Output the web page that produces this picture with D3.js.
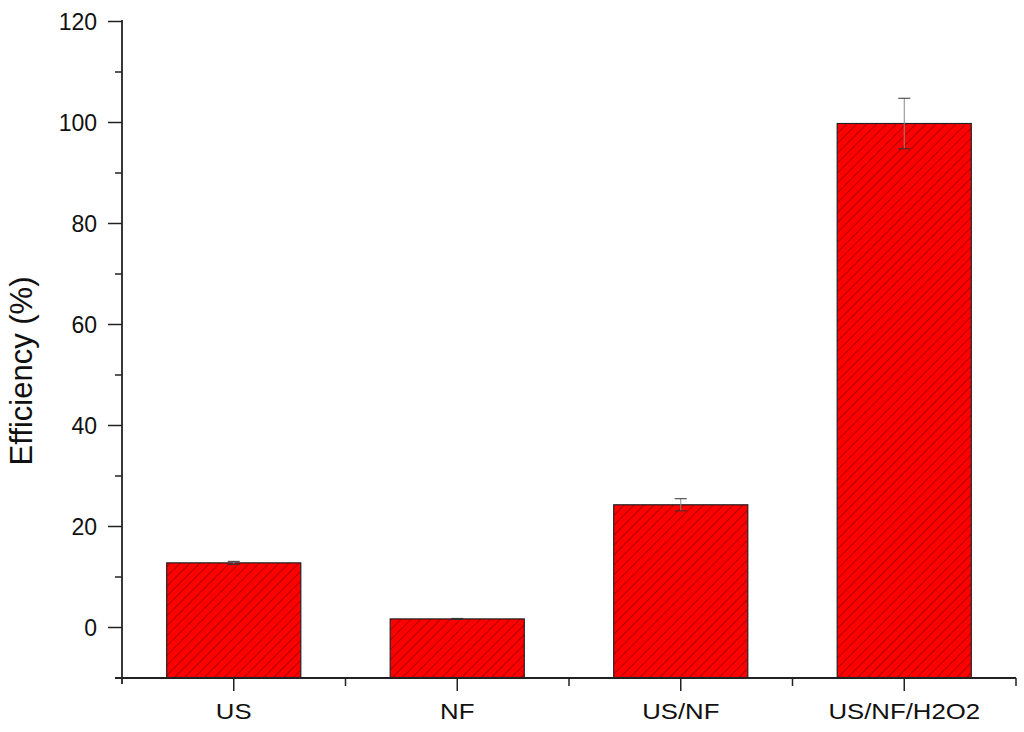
<!DOCTYPE html>
<html><head><meta charset="utf-8">
<script src="https://cdn.jsdelivr.net/npm/d3@7"></script>
<style>body{margin:0;background:#fff}svg{display:block}text{font-family:Arial,"Liberation Sans",sans-serif;fill:#111}</style>
</head><body>
<script>
const categories = ["US", "NF", "US/NF", "US/NF/H2O2"];
const values = [12.7, 1.6, 24.2, 99.7];
const errors = [0.3, 0.1, 1.2, 5.0];
const yTicks = [0, 20, 40, 60, 80, 100, 120];
const yMinorTicks = [-10, 10, 30, 50, 70, 90, 110];

const W = 1024, H = 732;
const svg = d3.select("body").append("svg").attr("width", W).attr("height", H);

const x = d3.scaleBand().domain(categories).range([122, 1016]).paddingInner(0).paddingOuter(0);
const y = d3.scaleLinear().domain([-10, 120]).range([677.5, 21]);

const defs = svg.append("defs");
const pat = defs.append("pattern").attr("id", "hatch").attr("patternUnits", "userSpaceOnUse")
  .attr("width", 7).attr("height", 7).attr("patternTransform", "rotate(45)");
pat.append("rect").attr("width", 7).attr("height", 7).attr("fill", "#ff0000");
pat.append("line").attr("x1", 0).attr("y1", 0).attr("x2", 0).attr("y2", 7)
  .attr("stroke", "#600000").attr("stroke-width", 1);

const bw = x.bandwidth() * 0.6;
const cx = d => x(d) + x.bandwidth() / 2;

// bars
svg.selectAll("rect.bar").data(categories).join("rect").attr("class", "bar")
  .attr("x", d => cx(d) - bw / 2).attr("width", bw)
  .attr("y", (d, i) => y(values[i])).attr("height", (d, i) => y(-10) - y(values[i]))
  .attr("fill", "url(#hatch)").attr("stroke", "#222").attr("stroke-width", 1.2);

// error bars
const eg = svg.append("g").attr("stroke", "#333").attr("stroke-width", 1);
categories.forEach((c, i) => {
  const xc = cx(c);
  eg.append("line").attr("x1", xc).attr("x2", xc).attr("y1", y(values[i] + errors[i])).attr("y2", y(values[i] - errors[i])).attr("stroke", "#888");
  eg.append("line").attr("x1", xc - 6).attr("x2", xc + 6).attr("y1", y(values[i] + errors[i])).attr("y2", y(values[i] + errors[i]));
  eg.append("line").attr("x1", xc - 6).attr("x2", xc + 6).attr("y1", y(values[i] - errors[i])).attr("y2", y(values[i] - errors[i]));
});

// y axis
const yAxis = svg.append("g").attr("transform", "translate(122,0)")
  .call(d3.axisLeft(y).tickValues(yTicks).tickSize(14).tickPadding(11).tickSizeOuter(0));
yAxis.select(".domain").remove();
yAxis.selectAll("line").attr("stroke", "#222").attr("stroke-width", 1.5);
yAxis.selectAll("text").attr("font-size", 23).attr("dy", "0.35em");
svg.append("g").attr("transform", "translate(122,0)")
  .call(d3.axisLeft(y).tickValues(yMinorTicks).tickSize(7).tickFormat("").tickSizeOuter(0))
  .call(g => g.select(".domain").remove())
  .selectAll("line").attr("stroke", "#222").attr("stroke-width", 1.5);
svg.append("line").attr("x1", 122).attr("x2", 122).attr("y1", 20).attr("y2", 684)
  .attr("stroke", "#222").attr("stroke-width", 1.8);

// x axis
svg.append("line").attr("x1", 115).attr("x2", 1016).attr("y1", 678).attr("y2", 678)
  .attr("stroke", "#222").attr("stroke-width", 1.8);
const xAxis = svg.append("g").attr("transform", "translate(0,678)")
  .call(d3.axisBottom(x).tickSize(13).tickPadding(12).tickSizeOuter(0));
xAxis.select(".domain").remove();
xAxis.selectAll("line").attr("stroke", "#222").attr("stroke-width", 1.5);
xAxis.selectAll("text").attr("font-size", 23).attr("transform", "scale(1.12,1)");
const bounds = categories.map(c => x(c) + x.bandwidth());
svg.append("g").selectAll("line").data(bounds).join("line")
  .attr("x1", d => d).attr("x2", d => d).attr("y1", 678).attr("y2", 686)
  .attr("stroke", "#222").attr("stroke-width", 1.5);

// y label
svg.append("text").attr("transform", "translate(32,371) rotate(-90)")
  .attr("text-anchor", "middle").attr("font-size", 31).text("Efficiency (%)");
</script>
</body></html>
